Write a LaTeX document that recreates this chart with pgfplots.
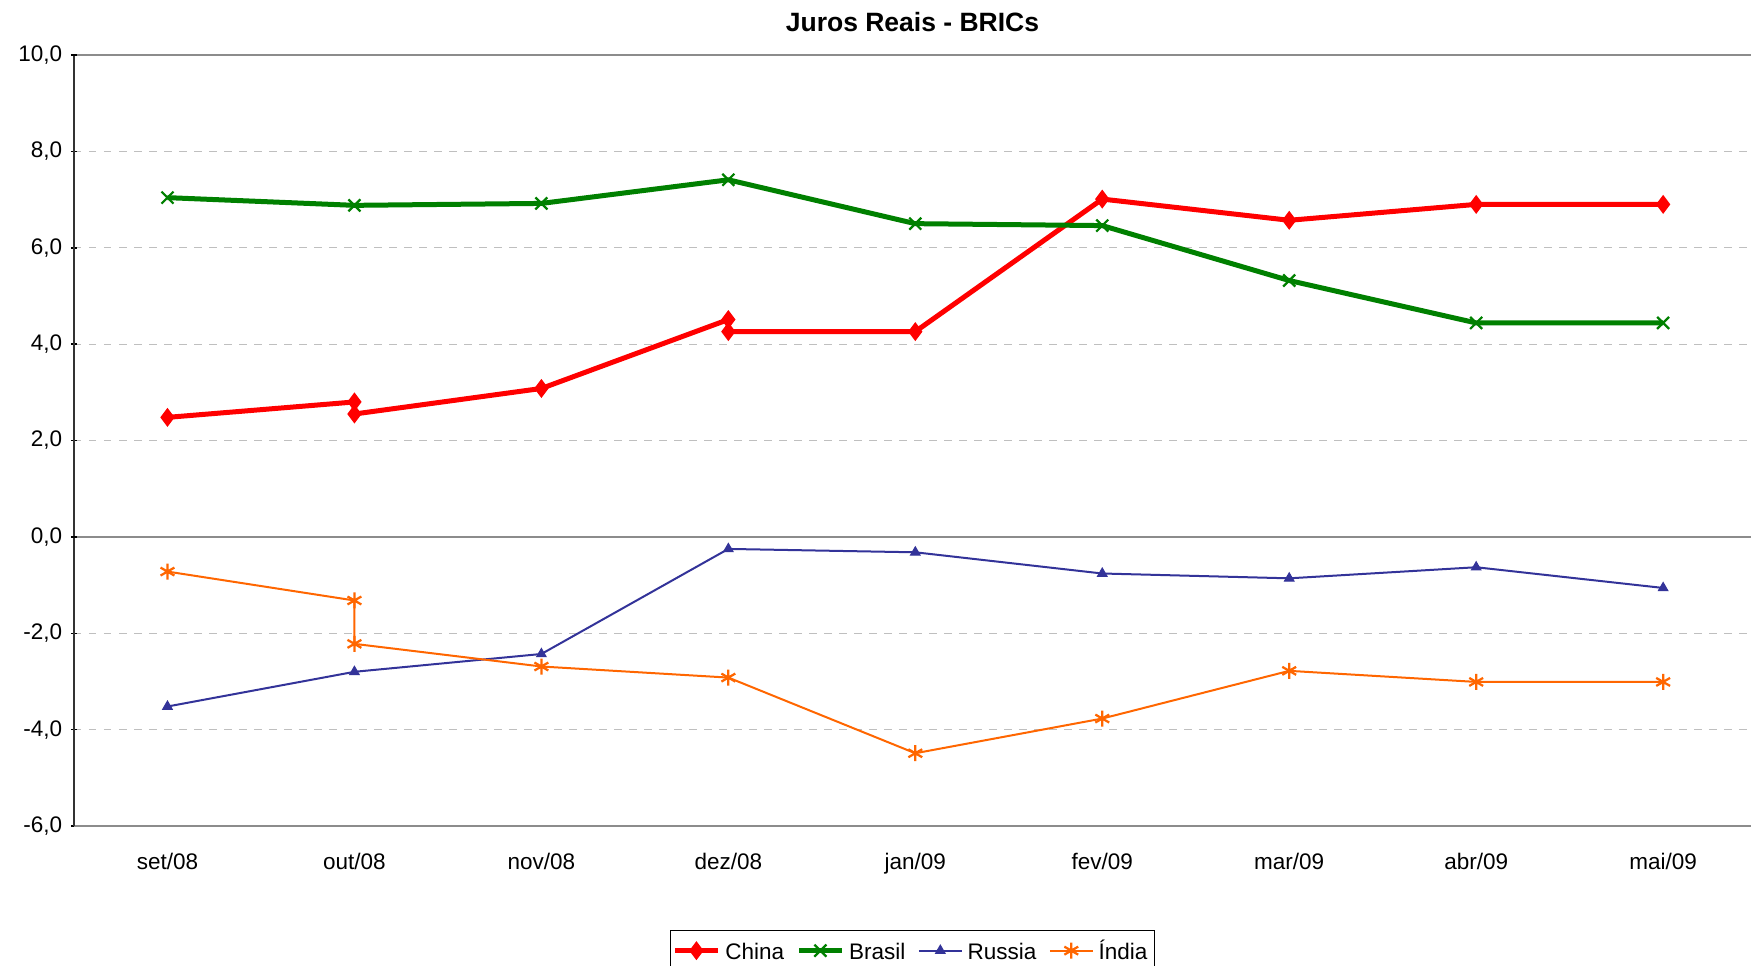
\documentclass[border=0pt]{standalone}
\usepackage{fontspec}
\setmainfont{Liberation Sans}
\usepackage{pgfplots}
\pgfplotsset{compat=1.18}

\definecolor{cchina}{RGB}{255,0,0}
\definecolor{cbrasil}{RGB}{0,128,0}
\definecolor{crussia}{RGB}{51,51,153}
\definecolor{cindia}{RGB}{255,102,0}

\begin{document}
\begin{tikzpicture}
  % fixed page: 1751 x 965 px at 0.4pt/px
  \path[use as bounding box] (-29.6pt,-55.6pt) rectangle (670.8pt,330.4pt);
  \begin{axis}[
    at={(0,0)}, anchor=south west,
    scale only axis,
    width=670.8pt, height=308.4pt,
    xmin=-0.5, xmax=8.47,
    ymin=-6, ymax=10,
    xtick={0,...,8},
    xticklabels={set/08,out/08,nov/08,dez/08,jan/09,fev/09,mar/09,abr/09,mai/09},
    xtick style={draw=none},
    xticklabel style={yshift=-6pt},
    ytick={-6,-4,-2,2,4,6,8},
    extra y ticks={0,10},
    extra y tick style={grid style={solid, draw=gray!90, line width=0.8pt}},
    ymajorgrids,
    grid style={dashed, draw=gray!50, line width=0.5pt},
    tick align=outside,
    major tick length=2.4pt,
    ytick style={black, line width=0.6pt},
    axis x line=bottom,
    axis y line=left,
    x axis line style={draw=gray!90, line width=0.8pt, -},
    y axis line style={draw=black!80, line width=0.8pt, -},
    clip=false,
    tick label style={font=\fontsize{9.0}{10}\selectfont},
    /pgf/number format/.cd, fixed, fixed zerofill, precision=1, use comma,
      assume math mode=true,
    /pgfplots/.cd,
    title={\bfseries Juros Reais - BRICs},
    title style={font=\fontsize{10.6}{12}\selectfont\bfseries, yshift=-0.3pt},
    legend columns=4,
    legend style={at={(0.5,-0.135)}, anchor=north, draw=black,
      font=\fontsize{9.0}{10}\selectfont, inner sep=1pt,
      nodes={text height=1.6ex, text depth=0.3ex},
      /tikz/every even column/.append style={column sep=3pt}},
    legend cell align=left,
  ]
    \addplot[cchina, line width=2pt, mark=diamond*, mark size=3.4pt,
      mark options={solid, line width=0.5pt}]
      coordinates {(0,2.48) (1,2.80) (1,2.55) (2,3.08) (3,4.51) (3,4.26)
        (4,4.26) (5,7.01) (6,6.57) (7,6.90) (8,6.90)};
    \addplot[cbrasil, line width=2pt, mark=x, mark size=3.4pt,
      mark options={solid, line width=0.9pt}]
      coordinates {(0,7.04) (1,6.88) (2,6.92) (3,7.41) (4,6.50) (5,6.46)
        (6,5.32) (7,4.44) (8,4.44)};
    \addplot[crussia, line width=0.8pt, mark=triangle*, mark size=2.2pt,
      mark options={solid, line width=0.4pt}]
      coordinates {(0,-3.52) (1,-2.80) (2,-2.43) (3,-0.25) (4,-0.32) (5,-0.76)
        (6,-0.86) (7,-0.63) (8,-1.06)};
    \addplot[cindia, line width=0.8pt, mark=asterisk, mark size=3.2pt,
      mark options={solid, line width=0.9pt}]
      coordinates {(0,-0.72) (1,-1.32) (1,-2.22) (2,-2.69) (3,-2.92) (4,-4.49)
        (5,-3.77) (6,-2.78) (7,-3.01) (8,-3.01)};
    \legend{China, Brasil, Russia, Índia}
  \end{axis}
\end{tikzpicture}
\end{document}
